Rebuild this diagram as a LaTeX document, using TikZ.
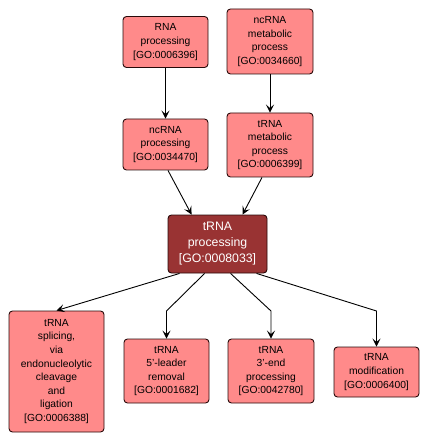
\documentclass[tikz,border=0pt]{standalone}
\usepackage{fontspec}
\setmainfont{Liberation Sans}
\usetikzlibrary{arrows.meta,calc}
\definecolor{boxfill}{RGB}{255,138,138}
\definecolor{mainfill}{RGB}{153,51,51}
\definecolor{boxline}{RGB}{40,10,10}
\tikzset{
  term/.style={draw=boxline, line width=0.9pt, fill=boxfill, rounded corners=3.5pt,
    align=center, inner sep=0pt, font=\fontsize{10.3}{13.6}\selectfont},
  mainterm/.style={term, fill=mainfill, text=white, font=\fontsize{12.3}{16}\selectfont},
  link/.style={draw=black, line width=0.9pt, -{Stealth[length=8pt,width=8pt,inset=3.5pt]}}
}
\begin{document}
\begin{tikzpicture}[x=1pt,y=-1pt]
\useasboundingbox (0,0) rectangle (430,443);
\node[term, minimum width=85pt, minimum height=51pt] (rna) at (165.5,42) {RNA\\processing\\{[GO:0006396]}};
\node[term, minimum width=86pt, minimum height=65pt] (ncmeta) at (270,41.5) {ncRNA\\metabolic\\process\\{[GO:0034660]}};
\node[term, minimum width=85pt, minimum height=51pt] (ncproc) at (165.5,144.5) {ncRNA\\processing\\{[GO:0034470]}};
\node[term, minimum width=86pt, minimum height=64pt] (tmeta) at (270,145) {tRNA\\metabolic\\process\\{[GO:0006399]}};
\node[mainterm, minimum width=99pt, minimum height=58pt] (trna) at (217.5,244) {tRNA\\processing\\{[GO:0008033]}};
\node[term, minimum width=95pt, minimum height=121pt] (splice) at (56.5,371.5) {tRNA\\splicing,\\via\\endonucleolytic\\cleavage\\and\\ligation\\{[GO:0006388]}};
\node[term, minimum width=85pt, minimum height=64pt] (lead) at (166.5,371) {tRNA\\5'-leader\\removal\\{[GO:0001682]}};
\node[term, minimum width=86pt, minimum height=64pt] (three) at (271,371) {tRNA\\3'-end\\processing\\{[GO:0042780]}};
\node[term, minimum width=85pt, minimum height=50pt] (mod) at (376.5,372) {tRNA\\modification\\{[GO:0006400]}};
\coordinate (b1) at (166.5,311);
\coordinate (b2) at (271,311);
\coordinate (b3) at (376.5,311);
\draw[link] (rna) -- (ncproc);
\draw[link] (ncmeta) -- (tmeta);
\draw[link] ($(ncproc.south)+(2.5,0)$) -- ($(trna.north west)+(24,0)$);
\draw[link] ($(tmeta.south)+(-8,0)$) -- ($(trna.north west)+(75,0)$);
\draw[link] ($(trna.south west)+(12,0)$) -- (splice.north);
\draw[link] ($(trna.south west)+(37,0)$) -- (b1) -- (lead.north);
\draw[link] ($(trna.south west)+(63,0)$) -- (b2) -- (three.north);
\draw[link] ($(trna.south west)+(89,0)$) -- (b3) -- (mod.north);
\end{tikzpicture}
\end{document}
